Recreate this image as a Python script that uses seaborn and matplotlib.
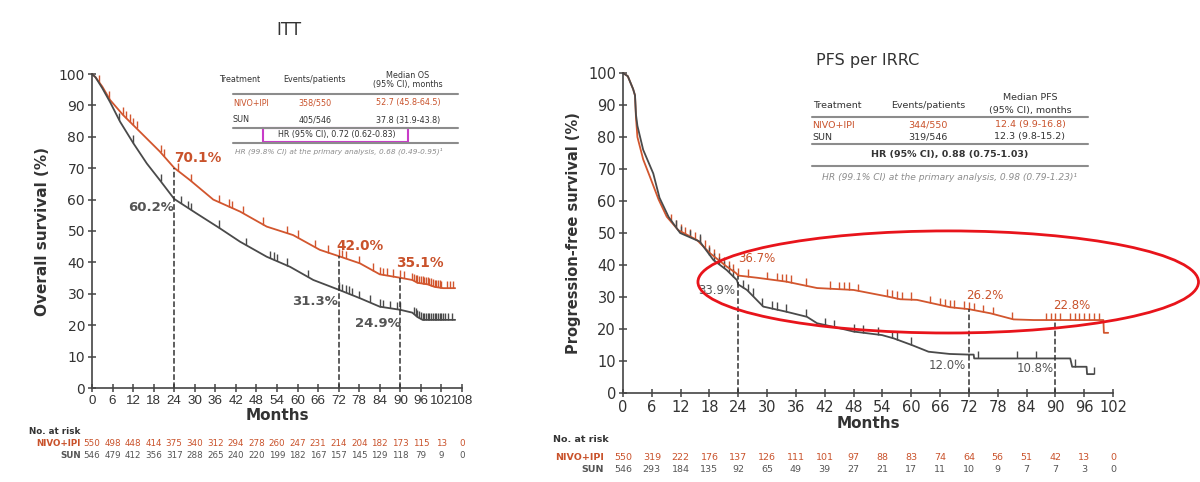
import matplotlib as mpl
import matplotlib.pyplot as plt
import matplotlib.transforms as mtransforms
from matplotlib.lines import Line2D
from matplotlib.patches import Ellipse, Rectangle
import numpy as np
import pandas as pd
import seaborn as sns

# ---- data ----
arms = ["NIVO+IPI", "SUN"]

os_nivo_t = [0, 1, 3, 5.3, 9.1, 14, 19.8, 24, 28.6, 35.4, 43.2, 51, 58.7, 66.5, 72, 78.2, 84, 90, 93.5, 95, 98, 100, 102.5, 106]
os_nivo_s = [100, 99, 96, 91.7, 86.9, 81.6, 75.3, 70.1, 66.2, 60, 56.2, 51.4, 48.7, 44, 42, 39.7, 36.2, 35.1, 34.4, 33.5, 33, 32.2, 31.8, 31.8]
os_sun_t = [0, 1, 3, 5.3, 8.2, 12.1, 16, 19.8, 24, 30.5, 37.4, 43.2, 51, 57.8, 64.6, 72, 78.2, 84, 90, 93.5, 95, 96.5, 106]
os_sun_s = [100, 99, 95.5, 91, 84.8, 77.9, 71.5, 66.2, 60.2, 55.6, 50.8, 46.6, 41.8, 38.6, 34.4, 31.3, 28.6, 25.9, 24.9, 24, 22.6, 21.7, 21.7]

pfs_nivo_t = [0, 1, 2.1, 2.5, 2.7, 3, 4.2, 5.6, 7.4, 9.1, 11.5, 15.4, 18.1, 21.6, 23.5, 24, 28, 34, 40.4, 48, 54.9, 57.7, 61.2, 68.1, 72, 76.5, 81.3, 85.5, 100, 100.1, 101]
pfs_nivo_s = [100, 99, 95, 93, 86, 80, 73, 67.6, 60.5, 55.1, 50.9, 47.8, 43.7, 39.5, 37.5, 36.7, 36, 34.8, 32.8, 32.2, 30.2, 29.3, 29.1, 26.8, 26.2, 24.9, 23.0, 22.8, 22.8, 18.8, 18.8]
pfs_sun_t = [0, 1, 2.1, 2.5, 2.7, 3, 4.2, 6.3, 7.6, 9.5, 11.9, 16, 18.8, 21.6, 23.7, 24, 25.8, 29.2, 34, 38.3, 40.4, 45.2, 48, 53.9, 56.3, 60.1, 63.6, 68, 72, 73, 73.1, 93.1, 93.5, 96.5, 96.6, 98]
pfs_sun_s = [100, 99, 95, 93, 87, 83.5, 76, 68.6, 61, 55, 50, 47.3, 41.6, 38.4, 35.3, 33.9, 32.2, 27, 25.4, 23.8, 21.8, 20.2, 19.2, 18.1, 17.1, 15, 12.9, 12.2, 12.0, 12.0, 10.8, 10.8, 8.2, 8.2, 5.9, 5.9]

# censoring marks (months)
os_nivo_cens = [2, 5, 9, 10, 11, 12, 13, 20, 21, 25, 29, 37, 40, 41, 44, 50, 57, 60, 65, 69, 72, 73, 74, 78, 82, 84, 85, 86, 88, 90, 91,
                93.5, 94, 94.5, 95, 95.5, 96, 96.5, 97, 97.5, 98, 98.5, 99, 99.5, 100, 100.5, 101, 101.5, 102, 103.5, 104.5, 105.5]
os_sun_cens = [8, 12, 20, 26, 28, 29, 37, 45, 52, 53, 54, 57, 63, 72, 73, 74, 75, 76, 78, 81, 84, 85, 87, 89, 90,
               94, 94.5, 95, 95.5, 96, 96.5, 97, 97.5, 98, 98.5, 99, 99.5, 100, 100.5, 101, 101.5, 102, 102.5, 103, 104, 105]
pfs_nivo_cens = [10, 11, 12, 13, 14, 15, 16, 17, 18, 19, 20, 21, 22, 23, 24, 26, 30, 32, 33, 34, 35, 38, 43, 45, 46, 47, 49, 55, 56, 57, 58,
                 60, 64, 66, 67, 68, 69, 71, 72, 73, 75, 77, 81, 88, 89, 90, 91, 93, 94, 95, 96, 97, 98, 99]
pfs_sun_cens = [11, 12, 14, 16, 18, 19, 20, 21, 22, 23, 25, 26, 27, 29, 31, 32, 34, 38, 42, 44, 48, 50, 53, 56, 57, 60, 74, 82, 86, 94, 98]

# landmark rates
landmarks = [24, 72, 90]
os_nivo_lm = [70.1, 42.0, 35.1]
os_sun_lm = [60.2, 31.3, 24.9]
pfs_nivo_lm = [36.7, 26.2, 22.8]
pfs_sun_lm = [33.9, 12.0, 10.8]

# numbers at risk
os_ticks = [0, 6, 12, 18, 24, 30, 36, 42, 48, 54, 60, 66, 72, 78, 84, 90, 96, 102, 108]
os_risk_nivo = [550, 498, 448, 414, 375, 340, 312, 294, 278, 260, 247, 231, 214, 204, 182, 173, 115, 13, 0]
os_risk_sun = [546, 479, 412, 356, 317, 288, 265, 240, 220, 199, 182, 167, 157, 145, 129, 118, 79, 9, 0]
pfs_ticks = [0, 6, 12, 18, 24, 30, 36, 42, 48, 54, 60, 66, 72, 78, 84, 90, 96, 102]
pfs_risk_nivo = [550, 319, 222, 176, 137, 126, 111, 101, 97, 88, 83, 74, 64, 56, 51, 42, 13, 0]
pfs_risk_sun = [546, 293, 184, 135, 92, 65, 49, 39, 27, 21, 17, 11, 10, 9, 7, 7, 3, 0]

ORANGE = "#D2562E"
ORANGE_TXT = "#C9522B"
GREY = "#4A4A4A"
GREY_TXT = "#555555"
palette = {"NIVO+IPI": ORANGE, "SUN": GREY}

sns.set_style("ticks")
plt.rcParams["font.family"] = ["DejaVu Sans"]

W, H = 1200, 482
fig = plt.figure(figsize=(12, 4.82), dpi=100)
ax1 = fig.add_axes([92 / W, 1 - 388 / H, 370 / W, 314 / H])
ax2 = fig.add_axes([623 / W, 1 - 393 / H, 490 / W, 320 / H])


def ftext(x, y, s, **kw):
    kw.setdefault("ha", "center")
    kw.setdefault("va", "center")
    fig.text(x / W, 1 - y / H, s, **kw)


def fline(x0, x1, y, color="#8C8C8C", lw=1.5):
    fig.add_artist(Line2D([x0 / W, x1 / W], [1 - y / H, 1 - y / H], color=color, lw=lw,
                          transform=fig.transFigure))


def draw_panel(ax, curves, cens, nivo_lm, sun_lm, xmax, ticks):
    df = pd.concat([pd.DataFrame({"month": t, "surv": s, "arm": a}) for a, (t, s) in zip(arms, curves)])
    sns.lineplot(data=df, x="month", y="surv", hue="arm", palette=palette, estimator=None,
                 sort=False, legend=False, linewidth=1.3, ax=ax)
    for l in ax.lines:
        l.set_clip_on(False)
    cdf = pd.concat([pd.DataFrame({"month": c, "surv": np.interp(c, t, s), "arm": a})
                     for a, c, (t, s) in zip(arms, cens, curves)])
    sns.scatterplot(data=cdf, x="month", y="surv", hue="arm", palette=palette, marker=2,
                    s=28, linewidth=1.0, legend=False, ax=ax, clip_on=False)
    ax.vlines(landmarks, 0, nivo_lm, colors="#333333", linestyles="dashed", lw=1.1)
    ax.set_xlim(0, xmax)
    ax.set_ylim(0, 100)
    ax.set_xticks(ticks)
    ax.set_yticks(range(0, 101, 10))
    sns.despine(ax=ax)
    for sp in ["left", "bottom"]:
        ax.spines[sp].set_color("#444444")
        ax.spines[sp].set_linewidth(1.2)
    ax.tick_params(direction="inout", length=6, width=1.1, color="#444444", labelcolor="#333333")


# ---- left: OS ----
draw_panel(ax1, [(os_nivo_t, os_nivo_s), (os_sun_t, os_sun_s)], [os_nivo_cens, os_sun_cens],
           os_nivo_lm, os_sun_lm, 108, os_ticks)
ax1.tick_params(axis="y", labelsize=10, pad=2)
ax1.tick_params(axis="x", labelsize=9.6, pad=2)
for lab in ax1.get_xticklabels():
    lab.set_family("Liberation Sans")
    lab.set_fontsize(9.6)
    lab.set_stretch("condensed")
ax1.set_xlabel("Months", fontsize=11, fontweight="bold", color="#333333", labelpad=1)
ax1.set_ylabel("Overall survival (%)", fontsize=11, fontweight="bold", color="#333333", labelpad=6)

os_off_n = [(17, 7), (15, 7), (14, 11)]
os_off_s = [(-17, -6.5), (-17, -8.5), (-16, -9.5)]
for m, v, o in zip(landmarks, os_nivo_lm, os_off_n):
    ax1.annotate(f"{v:.1f}%", (m, v), xytext=o, textcoords="offset points", ha="center", va="center",
                 color=ORANGE_TXT, fontsize=9.8, fontweight="bold")
for m, v, o in zip(landmarks, os_sun_lm, os_off_s):
    ax1.annotate(f"{v:.1f}%", (m, v), xytext=o, textcoords="offset points", ha="center", va="center",
                 color=GREY_TXT, fontsize=9.5, fontweight="bold")

# ---- right: PFS ----
draw_panel(ax2, [(pfs_nivo_t, pfs_nivo_s), (pfs_sun_t, pfs_sun_s)], [pfs_nivo_cens, pfs_sun_cens],
           pfs_nivo_lm, pfs_sun_lm, 102, pfs_ticks)
ax2.tick_params(labelsize=10.5, pad=2)
ax2.set_xlabel("Months", fontsize=11, fontweight="bold", color="#333333", labelpad=1)
ax2.set_ylabel("Progression-free survival (%)", fontsize=10.5, fontweight="bold", color="#333333", labelpad=5)

pfs_off_n = [(13.3, 12.5), (11.8, 9.5), (12, 10.8)]
pfs_off_s = [(-15.5, -4), (-15.8, -8), (-14.4, -7.1)]
for m, v, o in zip(landmarks, pfs_nivo_lm, pfs_off_n):
    ax2.annotate(f"{v:.1f}%", (m, v), xytext=o, textcoords="offset points", ha="center", va="center",
                 color=ORANGE_TXT, fontsize=8.5)
for m, v, o in zip(landmarks, pfs_sun_lm, pfs_off_s):
    ax2.annotate(f"{v:.1f}%", (m, v), xytext=o, textcoords="offset points", ha="center", va="center",
                 color=GREY_TXT, fontsize=8.5)

ax2.add_patch(Ellipse((67.7, 34.7), 104.2, 31.9, fill=False, ec="#E8141B", lw=2, clip_on=False, zorder=6))

# ---- titles ----
ftext(289, 30, "ITT", fontsize=12, color="#333333")
ftext(868, 60, "PFS per IRRC", fontsize=11.5, color="#333333")

# ---- OS table ----
ts = 5.8
ftext(240, 80, "Treatment", fontsize=ts, color="#333333")
ftext(315, 80, "Events/patients", fontsize=ts, color="#333333")
ftext(408, 75, "Median OS", fontsize=ts, color="#333333")
ftext(408, 85, "(95% CI), months", fontsize=ts, color="#333333")
fline(233, 458, 94)
ftext(233, 103, "NIVO+IPI", fontsize=ts, color=ORANGE_TXT, ha="left")
ftext(315, 103, "358/550", fontsize=ts, color=ORANGE_TXT)
ftext(408, 103, "52.7 (45.8-64.5)", fontsize=ts, color=ORANGE_TXT)
ftext(233, 120, "SUN", fontsize=ts, color="#333333", ha="left")
ftext(315, 120, "405/546", fontsize=ts, color="#333333")
ftext(408, 120, "37.8 (31.9-43.8)", fontsize=ts, color="#333333")
fline(233, 458, 128)
fig.add_artist(Rectangle((263 / W, 1 - 142 / H), 145 / W, 14 / H, fill=False, ec="#C83CC8", lw=1.5,
                         transform=fig.transFigure))
ftext(337, 135, "HR (95% CI), 0.72 (0.62-0.83)", fontsize=ts, color="#333333")
fline(233, 458, 143)
ftext(235, 151, "HR (99.8% CI) at the primary analysis, 0.68 (0.49-0.95)\u00b9", fontsize=5.3,
      color="#8C8C8C", style="italic", ha="left")

# ---- PFS table ----
ts2 = 6.8
ftext(837, 105, "Treatment", fontsize=ts2, color="#333333")
ftext(928, 105, "Events/patients", fontsize=ts2, color="#333333")
ftext(1030, 98, "Median PFS", fontsize=ts2, color="#333333")
ftext(1030, 110, "(95% CI), months", fontsize=ts2, color="#333333")
fline(812, 1088, 117)
ftext(812, 125, "NIVO+IPI", fontsize=ts2, color=ORANGE_TXT, ha="left")
ftext(928, 125, "344/550", fontsize=ts2, color=ORANGE_TXT)
ftext(1030, 125, "12.4 (9.9-16.8)", fontsize=ts2, color=ORANGE_TXT)
ftext(812, 137, "SUN", fontsize=ts2, color="#333333", ha="left")
ftext(928, 137, "319/546", fontsize=ts2, color="#333333")
ftext(1030, 137, "12.3 (9.8-15.2)", fontsize=ts2, color="#333333")
fline(812, 1088, 144)
ftext(950, 154, "HR (95% CI), 0.88 (0.75-1.03)", fontsize=ts2, color="#333333", fontweight="bold")
fline(812, 1088, 166)
ftext(950, 178, "HR (99.1% CI) at the primary analysis, 0.98 (0.79-1.23)\u00b9", fontsize=6.6,
      color="#8C8C8C", style="italic")

# ---- numbers at risk ----
def risk_rows(ax, ticks, nivo, sun, y_head, y_n, y_s, x_head, x_lab, fs):
    tr = mtransforms.blended_transform_factory(ax.transData, fig.transFigure)
    for t, a, b in zip(ticks, nivo, sun):
        ax.text(t, 1 - y_n / H, str(a), transform=tr, ha="center", va="center", fontsize=fs, color=ORANGE_TXT)
        ax.text(t, 1 - y_s / H, str(b), transform=tr, ha="center", va="center", fontsize=fs, color=GREY_TXT)
    ftext(x_head, y_head, "No. at risk", fontsize=fs, fontweight="bold", color="#333333", ha="left")
    ftext(x_lab, y_n, "NIVO+IPI", fontsize=fs, fontweight="bold", color=ORANGE_TXT, ha="right")
    ftext(x_lab, y_s, "SUN", fontsize=fs, fontweight="bold", color=GREY_TXT, ha="right")


risk_rows(ax1, os_ticks, os_risk_nivo, os_risk_sun, 431, 443, 455, 29, 81, 6.3)
risk_rows(ax2, pfs_ticks, pfs_risk_nivo, pfs_risk_sun, 439, 457, 470, 553, 604, 6.8)

fig.savefig("out.png", dpi=100)
